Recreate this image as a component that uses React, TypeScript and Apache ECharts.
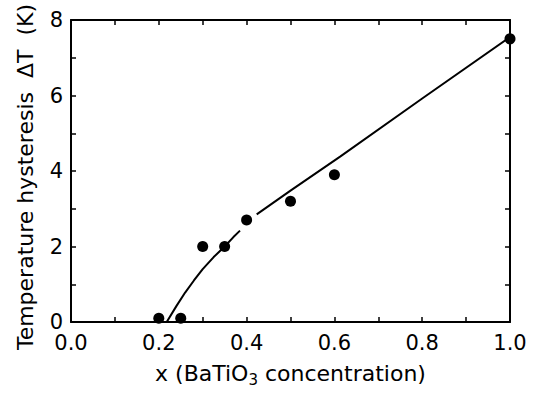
import React, { useEffect, useRef } from "react";
import * as echarts from "echarts";

const concentration = [0.2, 0.25, 0.3, 0.35, 0.4, 0.5, 0.6, 1.0];
const hysteresis = [0.1, 0.1, 2.0, 2.0, 2.7, 3.2, 3.9, 7.5];

const fitX = [0.218, 0.24, 0.26, 0.28, 0.3, 0.325, 0.35, 0.37, 0.385, 0.404, 0.423, 0.5, 0.613, 0.8, 1.0];
const fitY: (number | null)[] = [0, 0.42, 0.78, 1.1, 1.4, 1.72, 2.0, 2.25, 2.42, null, 2.85, 3.48, 4.38, 5.92, 7.55];

const xTicks = [0, 0.2, 0.4, 0.6, 0.8, 1.0];
const yTicks = [0, 2, 4, 6, 8];

const FONT = "'DejaVu Sans', sans-serif";

export default function App() {
  const ref = useRef<HTMLDivElement>(null);
  useEffect(() => {
    if (!ref.current) return;
    const chart = echarts.init(ref.current, undefined, { renderer: "svg" });
    const axisLine = { show: true, onZero: false, lineStyle: { color: "#000", width: 2 } };
    const tick = { show: true, inside: true, length: 5, lineStyle: { color: "#000", width: 1.5 } };
    const minor = { show: true, splitNumber: 2, length: 5, lineStyle: { color: "#000", width: 1.5 } };
    chart.setOption({
      animation: false,
      backgroundColor: "#fff",
      grid: { left: 71, right: 25, top: 20, bottom: 73 },
      graphic: [
        {
          type: "text",
          x: 25,
          y: 177,
          rotation: Math.PI / 2,
          style: {
            text: "Temperature hysteresis  \u0394T  (K)",
            fontSize: 22,
            fontFamily: FONT,
            fill: "#000",
            align: "center",
            verticalAlign: "middle",
          },
        },
      ],
      xAxis: [
        {
          type: "value",
          min: xTicks[0],
          max: xTicks[xTicks.length - 1],
          interval: 0.2,
          position: "bottom",
          axisLine,
          axisTick: tick,
          minorTick: minor,
          splitLine: { show: false },
          axisLabel: {
            color: "#000",
            fontSize: 21,
            fontFamily: FONT,
            margin: 10,
            formatter: (v: number) => v.toFixed(1),
          },
          name: "{n|x (BaTiO}{s|3}{n| concentration)}",
          nameLocation: "middle",
          nameGap: 37,
          nameTextStyle: {
            rich: {
              n: { fontSize: 22, fontFamily: FONT, color: "#000" },
              s: { fontSize: 15, fontFamily: FONT, color: "#000", padding: [13, 0, 0, 0] },
            },
          },
        },
        {
          type: "value",
          min: xTicks[0],
          max: xTicks[xTicks.length - 1],
          interval: 0.2,
          position: "top",
          axisLine,
          axisTick: tick,
          minorTick: minor,
          splitLine: { show: false },
          axisLabel: { show: false },
        },
      ],
      yAxis: [
        {
          type: "value",
          min: yTicks[0],
          max: yTicks[yTicks.length - 1],
          interval: 2,
          position: "left",
          axisLine,
          axisTick: tick,
          minorTick: minor,
          splitLine: { show: false },
          axisLabel: { color: "#000", fontSize: 21, fontFamily: FONT, margin: 8 },
        },
        {
          type: "value",
          min: yTicks[0],
          max: yTicks[yTicks.length - 1],
          interval: 2,
          position: "right",
          axisLine,
          axisTick: tick,
          minorTick: minor,
          splitLine: { show: false },
          axisLabel: { show: false },
        },
      ],
      series: [
        {
          type: "line",
          data: fitX.map((x, i) => [x, fitY[i]]),
          smooth: false,
          connectNulls: false,
          showSymbol: false,
          lineStyle: { color: "#000", width: 2 },
          clip: true,
        },
        {
          type: "scatter",
          data: concentration.map((x, i) => [x, hysteresis[i]]),
          symbol: "circle",
          symbolSize: 11,
          itemStyle: { color: "#000", opacity: 1 },
          clip: true,
        },
      ],
    });
    return () => chart.dispose();
  }, []);
  return <div ref={ref} style={{ width: 535, height: 395, position: "absolute", left: 0, top: 0 }} />;
}
